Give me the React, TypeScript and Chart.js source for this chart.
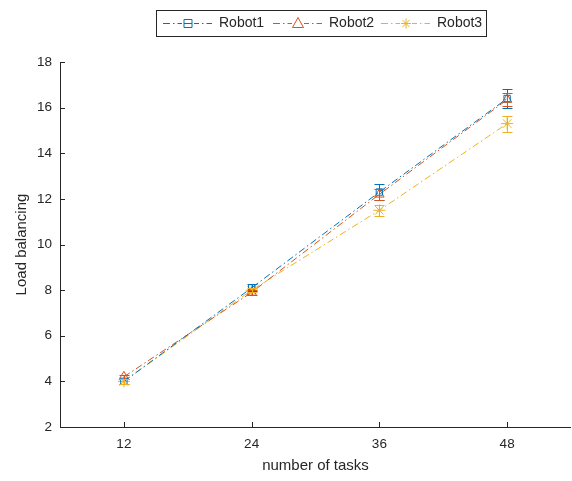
import React, { useEffect, useRef } from "react";
import { Chart, registerables } from "chart.js";

Chart.register(...registerables);

const tasks = [12, 24, 36, 48];
const xTicks = [12, 24, 36, 48];
const robot1 = [4.0, 8.1, 12.3, 16.4];
const robot2 = [4.2, 7.9, 12.2, 16.35];
const robot3 = [4.0, 8.0, 11.5, 15.3];
const robot1Err = [0.1, 0.15, 0.35, 0.4];
const robot2Err = [0.1, 0.1, 0.25, 0.3];
const robot3Err = [0.1, 0.1, 0.25, 0.35];
const seriesNames = ["Robot1", "Robot2", "Robot3"];

const COLORS = ["#0072BD", "#D95319", "#EDB120"];
const TEXT = "#262626";
const FONT = "'Liberation Sans', Arial, Helvetica, sans-serif";
const DASH = [7, 3, 1.5, 3];

const widenPlugin = {
  id: "widenArea",
  afterLayout(chart: any) {
    const xs = chart.scales.x;
    const target = chart.width - 1;
    xs.right = target;
    xs.width = target - xs.left;
    xs.configure();
    chart.chartArea.right = target;
    chart.chartArea.width = target - chart.chartArea.left;
  },
};

const errorBarsPlugin = {
  id: "errorBars",
  afterDatasetsDraw(chart: any) {
    const ctx = chart.ctx;
    const errs = [robot1Err, robot2Err, robot3Err];
    chart.data.datasets.forEach((ds: any, i: number) => {
      const xs = chart.scales.x;
      const ys = chart.scales.y;
      ctx.save();
      ctx.strokeStyle = COLORS[i];
      ctx.lineWidth = 1;
      ds.data.forEach((p: any, j: number) => {
        const px = Math.round(xs.getPixelForValue(p.x)) + 0.5;
        const top = Math.round(ys.getPixelForValue(p.y + errs[i][j])) + 0.5;
        const bot = Math.round(ys.getPixelForValue(p.y - errs[i][j])) + 0.5;
        ctx.beginPath();
        ctx.moveTo(px, top);
        ctx.lineTo(px, bot);
        ctx.moveTo(px - 5, top);
        ctx.lineTo(px + 5, top);
        ctx.moveTo(px - 5, bot);
        ctx.lineTo(px + 5, bot);
        ctx.stroke();
      });
      ctx.restore();
    });
  },
};

const axesPlugin = {
  id: "axesTicks",
  afterDraw(chart: any) {
    const ctx = chart.ctx;
    const { left, right, top, bottom } = chart.chartArea;
    const xs = chart.scales.x;
    const ys = chart.scales.y;
    ctx.save();
    ctx.strokeStyle = TEXT;
    ctx.lineWidth = 1;
    ctx.beginPath();
    ctx.moveTo(left + 0.5, top);
    ctx.lineTo(left + 0.5, bottom + 0.5);
    ctx.lineTo(right, bottom + 0.5);
    ys.ticks.forEach((t: any) => {
      const y = Math.round(ys.getPixelForValue(t.value)) + 0.5;
      ctx.moveTo(left, y);
      ctx.lineTo(left + 5, y);
    });
    xs.ticks.forEach((t: any) => {
      const x = Math.round(xs.getPixelForValue(t.value)) + 0.5;
      ctx.moveTo(x, bottom);
      ctx.lineTo(x, bottom - 5);
    });
    ctx.stroke();
    ctx.restore();
  },
};

const legendPlugin = {
  id: "customLegend",
  afterDraw(chart: any) {
    const ctx = chart.ctx;
    ctx.save();
    const bx = 156, by = 10, bw = 330, bh = 26;
    ctx.fillStyle = "#ffffff";
    ctx.fillRect(bx, by, bw, bh);
    ctx.strokeStyle = TEXT;
    ctx.lineWidth = 1;
    ctx.strokeRect(bx + 0.5, by + 0.5, bw, bh);
    const starts = [163, 273, 381];
    const styles = ["rect", "triangle", "star"];
    const cy = by + bh / 2 + 0.5;
    seriesNames.forEach((name, i) => {
      const x0 = starts[i];
      ctx.strokeStyle = COLORS[i];
      ctx.lineWidth = 1;
      ctx.setLineDash(DASH);
      ctx.beginPath();
      ctx.moveTo(x0, cy);
      ctx.lineTo(x0 + 49, cy);
      ctx.stroke();
      ctx.setLineDash([]);
      ctx.fillStyle = "#ffffff";
      ctx.fillRect(x0 + 19, cy - 6, 12, 12);
      const mx = x0 + 25;
      ctx.beginPath();
      if (styles[i] === "rect") {
        ctx.rect(mx - 4, cy - 4, 8, 8);
        ctx.moveTo(mx - 4, cy);
        ctx.lineTo(mx + 4, cy);
      } else if (styles[i] === "triangle") {
        ctx.moveTo(mx, cy - 6);
        ctx.lineTo(mx + 5.5, cy + 4);
        ctx.lineTo(mx - 5.5, cy + 4);
        ctx.closePath();
      } else {
        for (let k = 0; k < 4; k++) {
          const a = (k * Math.PI) / 4;
          ctx.moveTo(mx - 5 * Math.cos(a), cy - 5 * Math.sin(a));
          ctx.lineTo(mx + 5 * Math.cos(a), cy + 5 * Math.sin(a));
        }
      }
      ctx.stroke();
      ctx.fillStyle = TEXT;
      ctx.font = `14px ${FONT}`;
      ctx.textBaseline = "middle";
      ctx.textAlign = "left";
      ctx.fillText(name, x0 + 56, cy);
    });
    ctx.restore();
  },
};

export default function App() {
  const ref = useRef<HTMLCanvasElement | null>(null);
  useEffect(() => {
    if (!ref.current) return;
    const mk = (vals: number[], i: number, style: string, radius: number) => ({
      label: seriesNames[i],
      data: tasks.map((t, j) => ({ x: t, y: vals[j] })),
      borderColor: COLORS[i],
      backgroundColor: "rgba(0,0,0,0)",
      borderWidth: 1,
      borderDash: DASH,
      pointStyle: style,
      pointRadius: radius,
      pointBorderColor: COLORS[i],
      pointBackgroundColor: "rgba(0,0,0,0)",
      pointBorderWidth: 1,
      tension: 0,
      fill: false,
    });
    const chart = new Chart(ref.current, {
      type: "line",
      data: {
        datasets: [
          mk(robot1, 0, "rect", 4.5),
          mk(robot2, 1, "triangle", 5.5),
          mk(robot3, 2, "star", 6),
        ],
      },
      options: {
        animation: false,
        responsive: false,
        maintainAspectRatio: false,
        layout: { padding: { top: 62, right: 1, left: 0, bottom: 0 } },
        plugins: {
          legend: { display: false },
          tooltip: { enabled: false },
        },
        scales: {
          x: {
            type: "linear",
            min: 6,
            max: 54,
            afterBuildTicks: (s: any) => {
              s.ticks = xTicks.map((v) => ({ value: v }));
            },
            afterFit: (s: any) => {
              s.height = 54;
              s.paddingLeft = 0;
              s.paddingRight = 0;
            },
            grid: { display: false, drawTicks: false },
            border: { display: false },
            ticks: {
              color: TEXT,
              font: { family: FONT, size: 13.5 },
              padding: 9,
              maxRotation: 0,
            },
            title: {
              display: true,
              text: "number of tasks",
              color: TEXT,
              font: { family: FONT, size: 15 },
              padding: { top: 0, bottom: 6 },
            },
          },
          y: {
            min: 2,
            max: 18,
            afterFit: (s: any) => {
              s.width = 60;
              s.paddingTop = 0;
              s.paddingBottom = 0;
            },
            grid: { display: false, drawTicks: false },
            border: { display: false },
            ticks: {
              stepSize: 2,
              color: TEXT,
              font: { family: FONT, size: 13.5 },
              padding: 8,
            },
            title: {
              display: true,
              text: "Load balancing",
              color: TEXT,
              font: { family: FONT, size: 15 },
              padding: { top: 13, bottom: 6 },
            },
          },
        },
      } as any,
      plugins: [widenPlugin, errorBarsPlugin, axesPlugin, legendPlugin],
    });
    return () => chart.destroy();
  }, []);
  return (
    <div style={{ position: "absolute", left: 0, top: 0, width: 572, height: 481, background: "#fff" }}>
      <canvas ref={ref} width={572} height={481} style={{ width: 572, height: 481 }} />
    </div>
  );
}
